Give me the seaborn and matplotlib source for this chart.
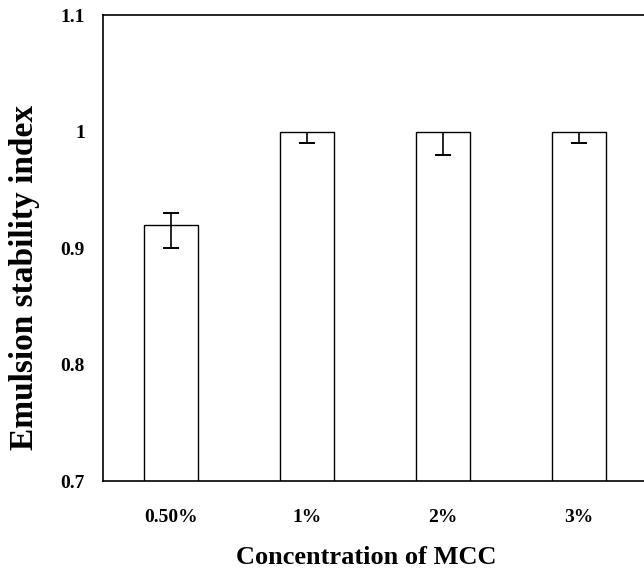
import matplotlib
matplotlib.use("Agg")
import matplotlib.pyplot as plt
import seaborn as sns
import pandas as pd

categories = ["0.50%", "1%", "2%", "3%"]
values = [0.92, 1.0, 1.0, 1.0]
err_low = [0.02, 0.01, 0.02, 0.01]
err_high = [0.01, 0.0, 0.0, 0.0]
y_ticks = [0.7, 0.8, 0.9, 1.0, 1.1]
y_tick_labels = ["0.7", "0.8", "0.9", "1", "1.1"]

sns.set_style("white")
plt.rcParams["font.family"] = ["Liberation Serif", "DejaVu Serif"]
plt.rcParams["font.weight"] = "bold"
plt.rcParams["text.color"] = "black"
plt.rcParams["axes.labelcolor"] = "black"
plt.rcParams["xtick.color"] = "black"
plt.rcParams["ytick.color"] = "black"

df = pd.DataFrame({"conc": categories, "esi": values})

fig = plt.figure(figsize=(6.44, 5.79), dpi=100)
ax = fig.add_axes([103/644, 1 - 481/579, (647 - 103)/644, (481 - 15)/579])

sns.barplot(data=df, x="conc", y="esi", color="white", edgecolor="black",
            linewidth=1.0, width=0.4, ax=ax, errorbar=None, saturation=1)

xs = [p.get_x() + p.get_width() / 2 for p in ax.patches]
ax.errorbar(xs, values, yerr=[err_low, err_high], fmt="none", ecolor="black",
            elinewidth=1.2, capsize=0)
# caps only where an error exists
lo_x = [x for x, e in zip(xs, err_low) if e > 0]
lo_y = [v - e for v, e in zip(values, err_low) if e > 0]
hi_x = [x for x, e in zip(xs, err_high) if e > 0]
hi_y = [v + e for v, e in zip(values, err_high) if e > 0]
ax.plot(lo_x, lo_y, ls="none", marker="_", ms=11, mew=1.4, color="black")
ax.plot(hi_x, hi_y, ls="none", marker="_", ms=11, mew=1.4, color="black")

ax.set_ylim(0.7, 1.1)
ax.set_xlim(-0.5, 3.5)
ax.set_yticks(y_ticks)
ax.set_yticklabels(y_tick_labels)
ax.tick_params(axis="both", length=0, labelsize=14)
ax.tick_params(axis="x", pad=20)
ax.tick_params(axis="y", pad=13)
for lab in ax.get_xticklabels() + ax.get_yticklabels():
    lab.set_fontweight("bold")

ax.set_xlabel("Concentration of MCC", fontsize=19, fontweight="bold")
ax.set_ylabel("Emulsion stability index", fontsize=24, fontweight="bold")
ax.xaxis.set_label_coords((366 - 103) / 544, -0.14)
ax.yaxis.set_label_coords(-0.115, (481 - 278) / 466)

for s in ax.spines.values():
    s.set_visible(True)
    s.set_color("black")
    s.set_linewidth(1.2)

fig.savefig("out.png", dpi=100)
